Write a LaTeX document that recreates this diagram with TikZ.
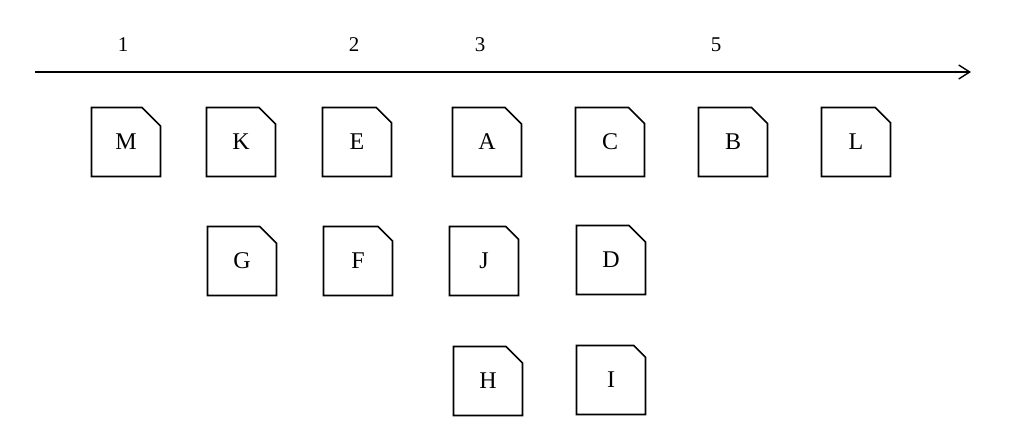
\documentclass[tikz,border=0pt]{standalone}
\usepackage{fontspec}
\setmainfont{Liberation Serif}
\usetikzlibrary{shapes.misc,arrows.meta}
\begin{document}
\begin{tikzpicture}[x=1pt,y=-1pt,
  doc/.style={chamfered rectangle, chamfered rectangle corners=north east,
    chamfered rectangle xsep=11pt, chamfered rectangle ysep=11pt,
    draw, line width=1.6pt, minimum width=69pt, minimum height=69pt,
    inner sep=0pt, font=\fontsize{24}{28}\selectfont},
  num/.style={font=\fontsize{21}{25}\selectfont, inner sep=0pt}]
\useasboundingbox (0,0) rectangle (1023,426);
\coordinate (s) at (35,72);
\coordinate (e) at (971,72);
\draw[line width=1.4pt, -{Straight Barb[length=11pt,width=14pt,line width=1.4pt]}] (s) -- (e);
\node[num] (n1) at (123,45) {1};
\node[num] (n2) at (354,45) {2};
\node[num] (n3) at (480,45) {3};
\node[num] (n5) at (716,45) {5};
\node[doc] (M) at (126,142) {M};
\node[doc] (K) at (241,142) {K};
\node[doc] (E) at (357,142) {E};
\node[doc] (A) at (487,142) {A};
\node[doc] (C) at (610,142) {C};
\node[doc] (B) at (733,142) {B};
\node[doc] (L) at (856,142) {L};
\node[doc] (G) at (242,261) {G};
\node[doc] (F) at (358,261) {F};
\node[doc] (J) at (484,261) {J};
\node[doc] (D) at (611,260) {D};
\node[doc] (H) at (488,381) {H};
\node[doc] (I) at (611,380) {I};
\end{tikzpicture}
\end{document}
